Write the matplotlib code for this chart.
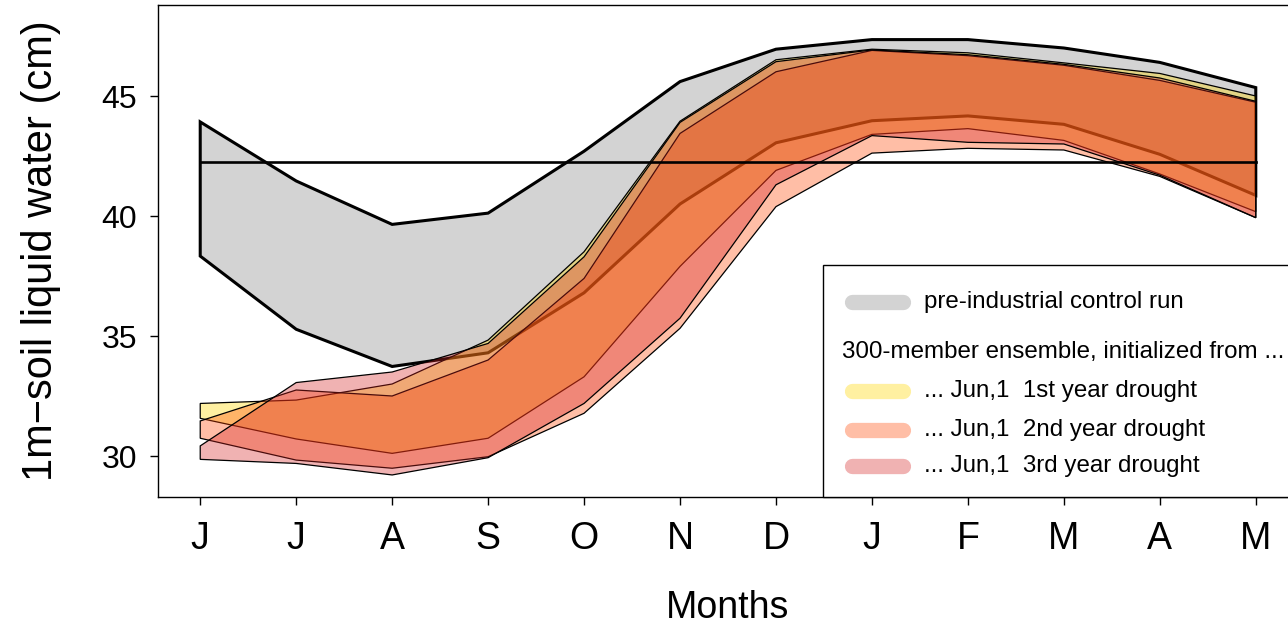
import matplotlib
matplotlib.use("Agg")
import matplotlib.pyplot as plt
from matplotlib.lines import Line2D
from matplotlib.patches import Rectangle

plt.rcParams['font.family'] = ['Liberation Sans', 'DejaVu Sans']

months = ['J', 'J', 'A', 'S', 'O', 'N', 'D', 'J', 'F', 'M', 'A', 'M']

ctrl_upper = [43.92, 41.46, 39.65, 40.12, 42.70, 45.60, 46.95, 47.35, 47.35, 47.00, 46.40, 45.35]
ctrl_lower = [38.33, 35.28, 33.73, 34.30, 36.80, 40.50, 43.05, 43.97, 44.17, 43.82, 42.57, 40.86]
ctrl_mean = 42.25

y1_upper = [32.19, 32.33, 33.00, 34.83, 38.51, 43.95, 46.51, 46.95, 46.80, 46.38, 45.94, 45.00]
y1_lower = [31.57, 30.71, 30.11, 30.74, 33.30, 37.90, 41.90, 43.40, 43.64, 43.15, 41.75, 40.18]
y2_upper = [31.46, 32.75, 32.50, 34.00, 37.40, 43.44, 46.01, 46.90, 46.68, 46.28, 45.65, 44.74]
y2_lower = [30.74, 29.83, 29.49, 29.97, 31.78, 35.32, 40.39, 42.62, 42.82, 42.75, 41.65, 39.93]
y3_upper = [30.42, 33.06, 33.50, 34.69, 38.30, 43.90, 46.43, 46.92, 46.72, 46.32, 45.75, 44.78]
y3_lower = [29.86, 29.69, 29.21, 29.93, 32.19, 35.74, 41.30, 43.35, 43.07, 43.00, 41.70, 39.93]

legend_labels = ['pre-industrial control run',
                 '300-member ensemble, initialized from ...',
                 '... Jun,1  1st year drought',
                 '... Jun,1  2nd year drought',
                 '... Jun,1  3rd year drought']

grey = (211/255, 211/255, 211/255)
c1 = (1.0, 215/255, 0.0, 0.37)
c2 = (1.0, 69/255, 0.0, 0.35)
c3 = (212/255, 35/255, 35/255, 0.35)

W, H = 1288, 626
fig = plt.figure(figsize=(W/100, H/100), dpi=100)

def fx(x):
    return x / W

def fy(y):
    return 1 - y / H

ax = fig.add_axes([fx(158), fy(497), (1298 - 158) / W, (497 - 5) / H])

x = list(range(len(months)))

def band(up, lo, fc, lw, ec='black'):
    xs = x + x[::-1]
    ys = list(up) + list(lo)[::-1]
    ax.fill(xs, ys, facecolor=fc, edgecolor=ec, linewidth=lw, joinstyle='miter')

band(ctrl_upper, ctrl_lower, grey, 2.2)
ax.plot([x[0], x[-1]], [ctrl_mean, ctrl_mean], color='black', lw=1.9)
band(y1_upper, y1_lower, c1, 0.9)
band(y2_upper, y2_lower, c2, 0.9)
band(y3_upper, y3_lower, c3, 0.9)

ax.set_xlim(-0.44, 11.44)
ax.set_ylim(30 - 41/24, 30 + 451/24)
ax.set_xticks(x)
ax.set_xticklabels(months, fontsize=27)
ax.set_yticks([30, 35, 40, 45])
ax.set_yticklabels(['30', '35', '40', '45'], fontsize=23)
ax.tick_params(direction='out', length=6, width=1)
ax.tick_params(axis='x', pad=11)
ax.tick_params(axis='y', pad=9)
ax.set_xlabel('Months', fontsize=27, labelpad=24)
ax.set_ylabel('1m\u2212soil liquid water (cm)', fontsize=30, labelpad=29)
for s in ax.spines.values():
    s.set_linewidth(1)

# legend box
fig.add_artist(Rectangle((fx(823), fy(497)), fx(1400) - fx(823), fy(265) - fy(497),
                         transform=fig.transFigure, facecolor='white', edgecolor='black', lw=1, zorder=5))
sw_cols = [grey, None, c1, c2, c3]
ys_leg = [302, 352, 391, 430, 466]
for lab, col, yy in zip(legend_labels, sw_cols, ys_leg):
    if col is None:
        fig.text(fx(842), fy(yy), lab, fontsize=17.4, va='center', ha='left', zorder=6)
    else:
        fig.add_artist(Line2D([fx(852), fx(903)], [fy(yy), fy(yy)], transform=fig.transFigure,
                              color=col, lw=11, solid_capstyle='round', zorder=6))
        fig.text(fx(924), fy(yy), lab, fontsize=17.4, va='center', ha='left', zorder=6)

fig.savefig('out.png', dpi=100)
